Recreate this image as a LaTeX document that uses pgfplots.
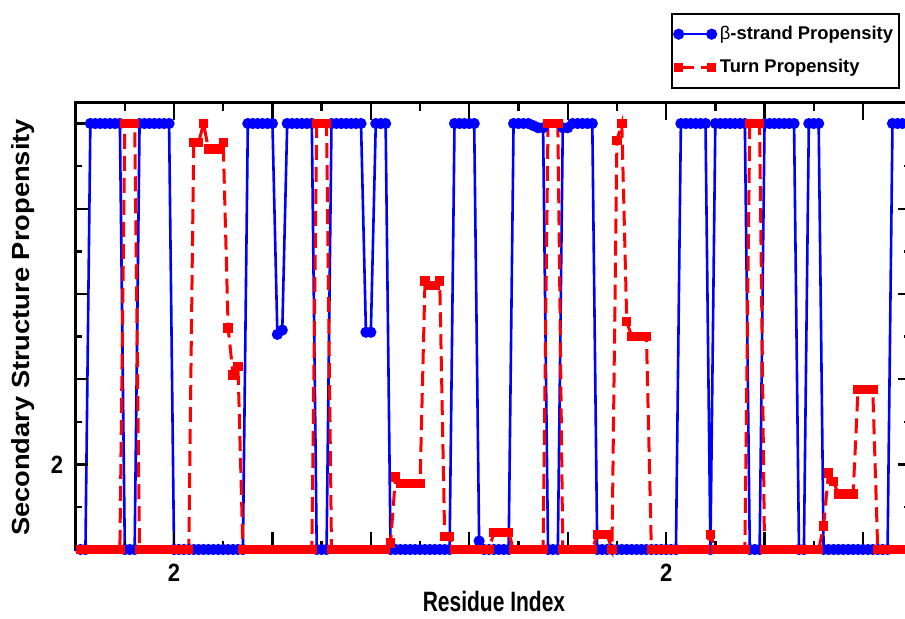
\documentclass[border=0pt]{standalone}
\usepackage{fontspec}
\setmainfont{Liberation Sans}
\newfontfamily\xlabfont[FakeStretch=0.75]{Liberation Sans}
\newfontfamily\ylabfont[FakeStretch=1.1]{Liberation Sans}
\newfontfamily\tickfont[FakeStretch=0.88]{Liberation Sans}
\usepackage{pgfplots}
\usepackage{pgfplotstable}
\pgfplotsset{compat=1.18}

% residue, beta-strand propensity, turn propensity
\pgfplotstableread{
res beta turn
1 0 0
2 0 0
3 1 0
4 1 0
5 1 0
6 1 0
7 1 0
8 1 0
9 1 0
10 0 1
11 0 1
12 0 1
13 1 0
14 1 0
15 1 0
16 1 0
17 1 0
18 1 0
19 1 0
20 0 0
21 0 0
22 0 0
23 0 0
24 0 0.955
25 0 0.955
26 0 1
27 0 0.94
28 0 0.94
29 0 0.94
30 0 0.955
31 0 0.52
32 0 0.41
33 0 0.43
34 0 0
35 1 0
36 1 0
37 1 0
38 1 0
39 1 0
40 1 0
41 0.505 0
42 0.515 0
43 1 0
44 1 0
45 1 0
46 1 0
47 1 0
48 1 0
49 0 1
50 0 1
51 0 1
52 1 0
53 1 0
54 1 0
55 1 0
56 1 0
57 1 0
58 1 0
59 0.51 0
60 0.51 0
61 1 0
62 1 0
63 1 0
64 0 0.015
65 0 0.17
66 0 0.155
67 0 0.155
68 0 0.155
69 0 0.155
70 0 0.155
71 0 0.63
72 0 0.62
73 0 0.62
74 0 0.63
75 0 0.03
76 0 0.03
77 1 0
78 1 0
79 1 0
80 1 0
81 1 0
82 0.02 0
83 0 0
84 0 0
85 0 0.04
86 0 0.04
87 0 0.04
88 0 0.04
89 1 0
90 1 0
91 1 0
92 1 0
93 0.995 0
94 0.99 0
95 0.99 0
96 0 1
97 0 1
98 0 1
99 0.99 0
100 0.99 0
101 1 0
102 1 0
103 1 0
104 1 0
105 1 0
106 0 0.035
107 0 0.035
108 0 0.035
109 0 0
110 0 0.96
111 0 1
112 0 0.535
113 0 0.5
114 0 0.5
115 0 0.5
116 0 0.5
117 0 0
118 0 0
119 0 0
120 0 0
121 0 0
122 0 0
123 1 0
124 1 0
125 1 0
126 1 0
127 1 0
128 1 0
129 0 0.035
130 1 0
131 1 0
132 1 0
133 1 0
134 1 0
135 1 0
136 1 0
137 0 1
138 0 1
139 0 1
140 1 0
141 1 0
142 1 0
143 1 0
144 1 0
145 1 0
146 1 0
147 0 0
148 0 0
149 1 0
150 1 0
151 1 0
152 0 0.055
153 0 0.18
154 0 0.16
155 0 0.13
156 0 0.13
157 0 0.13
158 0 0.13
159 0 0.375
160 0 0.375
161 0 0.375
162 0 0.375
163 0 0
164 0 0
165 0 0
166 1 0
167 1 0
168 1 0
169 1 0
}\propdata

\begin{document}
\begin{tikzpicture}
\begin{axis}[
  scale only axis,
  width=417.3pt, height=223.65pt,
  xmin=0, xmax=169.6, ymin=0, ymax=1.05,
  clip=false,
  axis on top,
  axis line style={line width=1.5pt},
  xtick={20,40,60,80,100,120,140,160},
  xticklabels={2,{},{},{},{},2,{},{}},
  minor xtick={10,30,50,70,90,110,130,150},
  ytick={0.2,0.4,0.6,0.8,1},
  yticklabels={2,{},{},{},{}},
  minor ytick={0.1,0.3,0.5,0.7,0.9},
  tick align=inside,
  tick style={black, line width=1.2pt},
  xtick style={/pgfplots/major tick length=9pt, /pgfplots/minor tick length=4.5pt},
  ytick style={/pgfplots/major tick length=6pt, /pgfplots/minor tick length=3pt},
  ticklabel style={font=\tickfont\bfseries\fontsize{12.5}{14}\selectfont},
  xticklabel style={anchor=base, yshift=-16.1pt},
  yticklabel style={anchor=east, inner sep=0pt, xshift=-6pt},
  xlabel={Residue Index},
  xlabel style={at={(axis description cs:0.5013,-0.1397)}, anchor=base,
    font=\xlabfont\bfseries\fontsize{14}{16}\selectfont},
  ylabel={Secondary Structure Propensity},
  ylabel style={at={(axis description cs:-0.0558,0.4963)}, anchor=base,
    font=\ylabfont\bfseries\fontsize{12.4}{14}\selectfont},
  legend cell align=left,
  legend image code/.code={
    \draw[#1] plot coordinates {(0pt,0pt) (16.5pt,0pt)};
  },
  legend style={at={(axis description cs:0.9878,1.1994)}, anchor=north east,
    draw=black, line width=1pt, inner xsep=1pt, inner ysep=4pt, row sep=4.5pt,
    font=\bfseries\fontsize{9.2}{11}\selectfont},
]
\addplot [blue, line width=1.3pt, mark=*, mark size=2.1pt,
  mark options={solid, fill=blue, draw=blue}]
  table [x=res, y=beta] {\propdata};
\addlegendentry{{\mdseries β}-strand Propensity}
\addplot [red, line width=1.5pt, dash pattern=on 7.5pt off 3.5pt, mark=square*,
  mark size=1.6pt, mark options={solid, fill=red, draw=red}]
  table [x=res, y=turn] {\propdata};
\addlegendentry{Turn Propensity}
\end{axis}
\pgfresetboundingbox
\path[use as bounding box] (-37.8pt,-34.25pt) rectangle (414.7pt,274.75pt);
\end{tikzpicture}
\end{document}
